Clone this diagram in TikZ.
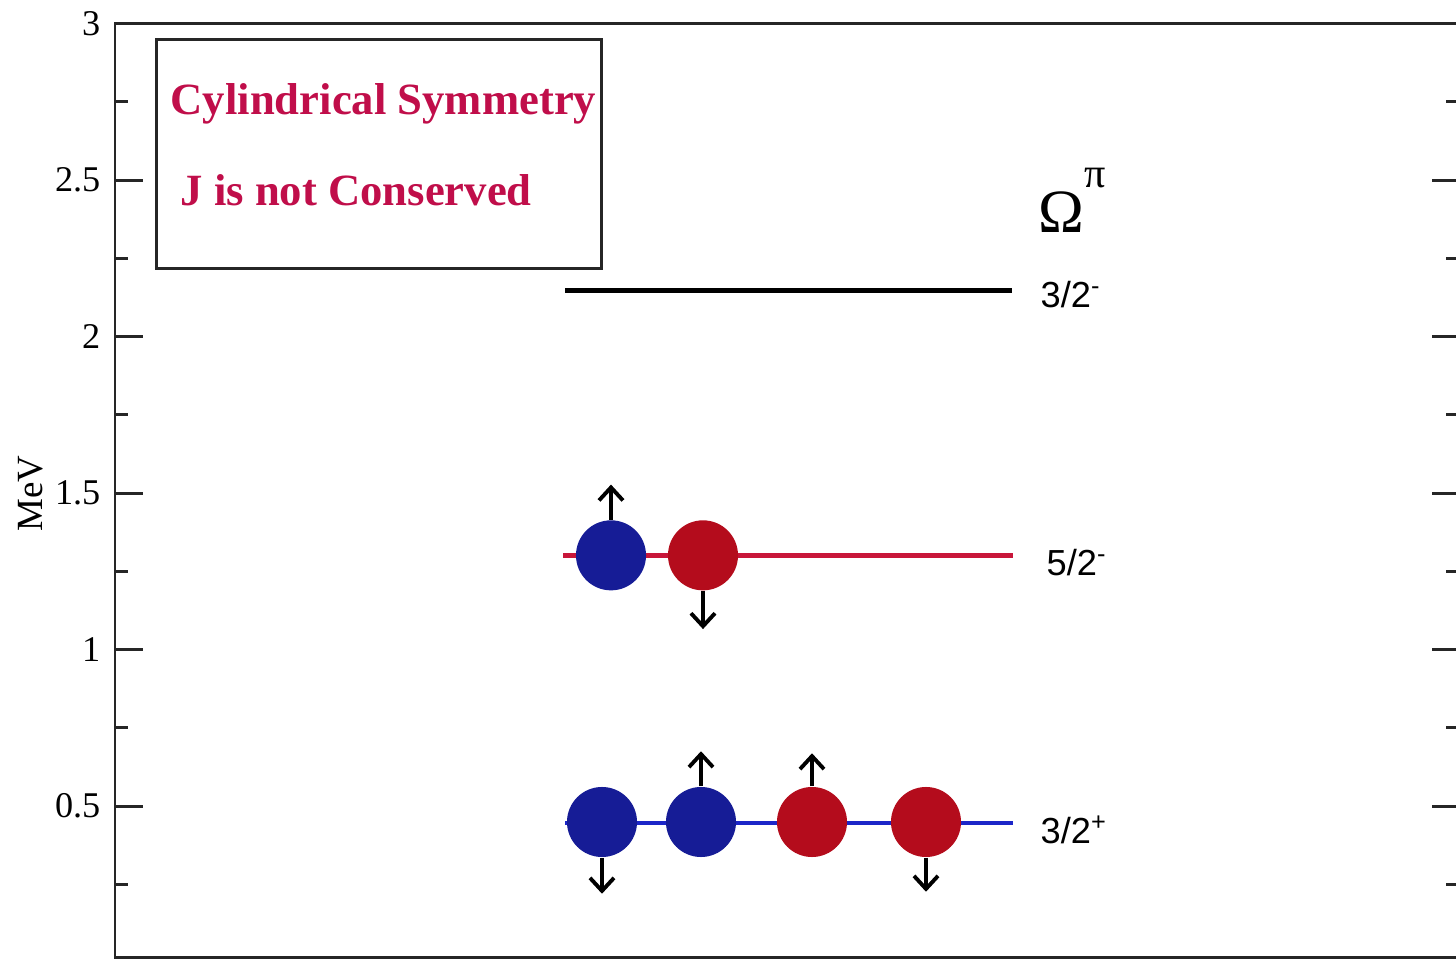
\documentclass[tikz,border=0pt]{standalone}
\usepackage{fontspec}
\setmainfont{Liberation Serif}
\newfontfamily\levelfont{Liberation Sans}
\usepackage{tikz}
\usetikzlibrary{arrows.meta, positioning}
\usepackage{xcolor}
\definecolor{symred}{RGB}{192,14,74}
\definecolor{ballblue}{RGB}{22,28,150}
\definecolor{ballred}{RGB}{180,12,28}
\definecolor{linered}{RGB}{200,22,58}
\definecolor{lineblue}{RGB}{28,38,200}
\tikzset{
  frame/.style={draw=black!85, line width=0.85pt},
  ticklabel/.style={anchor=east, inner sep=0pt, font=\fontsize{10.3}{11}\selectfont},
  level/.style={line width=1.3pt},
  levellabel/.style={
    anchor=base west, inner sep=0pt,
    font=\levelfont\fontsize{10.3}{11}\selectfont
  },
  bluenuc/.style={circle, fill=ballblue, minimum size=0.70cm, inner sep=0pt},
  rednuc/.style={circle, fill=ballred, minimum size=0.70cm, inner sep=0pt},
  spin/.style={-{Straight Barb[length=1.3mm, width=2.4mm, line width=1.1pt]}, line width=1.1pt},
  note/.style={
    anchor=base west, inner sep=0pt, text=symred,
    font=\bfseries\fontsize{12.7}{14}\selectfont
  },
  legendbox/.style={
    rectangle, draw=black!85, line width=0.85pt,
    minimum width=4.44cm, minimum height=2.29cm, inner sep=0pt
  }
}

\begin{document}
\begin{tikzpicture}[x=0.01cm, y=3.128cm]
  \useasboundingbox (0,0.0064) rectangle (1456,3.0754);

  % axes frame and ticks
  \draw[frame] (115,0.016) rectangle (1462,3);
  \foreach \v/\t [count=\i] in {0.5/0.5,1/1,1.5/1.5,2/2,2.5/2.5,3/3} {
    \draw[frame] (115,\v) -- ++(28,0);
    \draw[frame] (1456,\v) -- ++(-24,0);
    \node[ticklabel] (tick\i) at (101,\v) {\t};
  }
  \foreach \v in {0.25,0.75,1.25,1.75,2.25,2.75} {
    \draw[frame] (115,\v) -- ++(13,0);
    \draw[frame] (1456,\v) -- ++(-10,0);
  }
  \node[rotate=90, inner sep=0pt, font=\fontsize{10.5}{11}\selectfont] (mev) at (31,1.499) {MeV};

  % legend
  \node[legendbox] (legend) at (379,2.582) {};
  \node[note] (sym) at (170,2.708) {Cylindrical Symmetry};
  \node[note] (jnc) at (180,2.420) {J is not Conserved};

  \node[anchor=base west, inner sep=0pt, font=\fontsize{17.5}{18}\selectfont] (omega)
    at (1038,2.334) {Ω\raisebox{12.8pt}{\fontsize{12}{12}\selectfont π}};

  % 3/2- level
  \coordinate (hiL) at (565,2.148);
  \coordinate (hiR) at (1012,2.148);
  \draw[level, black] (hiL) -- (hiR);
  \node[levellabel] (hiLab) at (1040,2.094) {3/2\textsuperscript{-}};

  % 5/2- level
  \coordinate (midL) at (563,1.301);
  \coordinate (midR) at (1013,1.301);
  \draw[level, linered] (midL) -- (midR);
  \node[levellabel] (midLab) at (1046,1.237) {5/2\textsuperscript{-}};
  \node[bluenuc] (m1) at (611,1.301) {};
  \node[rednuc]  (m2) at (703,1.301) {};
  \coordinate[above=0.35cm of m1.north] (m1tip);
  \coordinate[below=0.38cm of m2.south] (m2tip);
  \draw[spin] (m1.north) -- (m1tip);
  \draw[spin] (m2.south) -- (m2tip);

  % 3/2+ level
  \coordinate (loL) at (565,0.446);
  \coordinate (loR) at (1013,0.446);
  \draw[level, lineblue] (loL) -- (loR);
  \node[levellabel] (loLab) at (1040,0.380) {3/2\textsuperscript{+}};
  \node[bluenuc] (g1) at (602,0.449) {};
  \node[bluenuc] (g2) at (701,0.449) {};
  \node[rednuc]  (g3) at (812,0.449) {};
  \node[rednuc]  (g4) at (926,0.449) {};
  \coordinate[below=0.36cm of g1.south] (g1tip);
  \coordinate[above=0.35cm of g2.north] (g2tip);
  \coordinate[above=0.33cm of g3.north] (g3tip);
  \coordinate[below=0.34cm of g4.south] (g4tip);
  \draw[spin] (g1.south) -- (g1tip);
  \draw[spin] (g2.north) -- (g2tip);
  \draw[spin] (g3.north) -- (g3tip);
  \draw[spin] (g4.south) -- (g4tip);
\end{tikzpicture}
\end{document}
